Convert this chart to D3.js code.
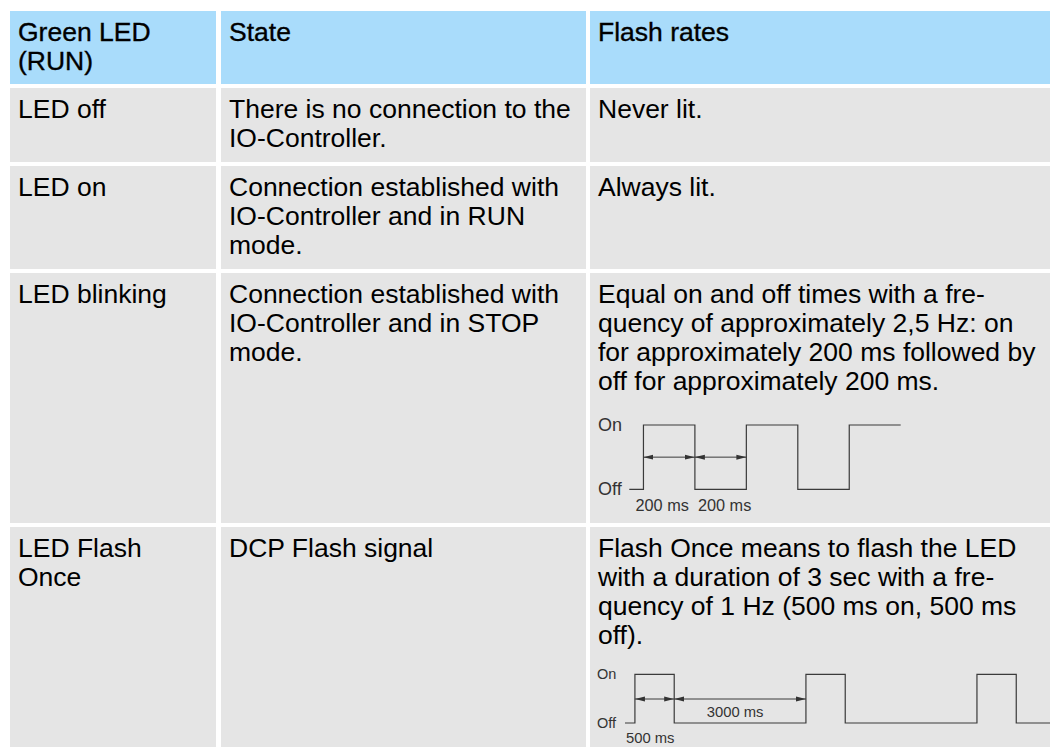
<!DOCTYPE html>
<html><head><meta charset="utf-8">
<script src="https://cdn.jsdelivr.net/npm/d3@7"></script>
<style>body{margin:0;background:#fff;} svg{display:block;}</style>
</head><body><svg id="c" width="1050" height="747"></svg>
<script>
// ---------- data ----------
const headers = [["Green LED","(RUN)"],["State"],["Flash rates"]];
const ledModes = [["LED off"],["LED on"],["LED blinking"],["LED Flash","Once"]];
const states = [
  ["There is no connection to the","IO-Controller."],
  ["Connection established with","IO-Controller and in RUN","mode."],
  ["Connection established with","IO-Controller and in STOP","mode."],
  ["DCP Flash signal"]
];
const flashRates = [
  ["Never lit."],
  ["Always lit."],
  ["Equal on and off times with a fre-","quency of approximately 2,5 Hz: on","for approximately 200 ms followed by","off for approximately 200 ms."],
  ["Flash Once means to flash the LED","with a duration of 3 sec with a fre-","quency of 1 Hz (500 ms on, 500 ms","off)."]
];
const levelLabels = ["Off","On"];
// blinking: edge times (ms) and level after each edge
const blinkTimes = [-55, 0, 200, 400, 600, 800, 1000];
const blinkLevels = [0, 1, 0, 1, 0, 1];
const blinkDims = [[0, 200, "200 ms"], [200, 400, "200 ms"]];
// flash once: segment durations (ms) and levels (schematic, compressed)
const onceDurations = [65, 500, 3000, 500, 3000, 500, 3000];
const onceLevels = [0, 1, 0, 1, 0, 1, 0];
const onceDims = [[1, "500 ms"], [2, "3000 ms"]];

// ---------- layout ----------
const svg = d3.select("#c");
const colBands = [[10,216],[221,586],[590,1050]];
const rowBands = [[11,84],[88,162],[166,269],[273,523],[527,760]];
const FONT = "'Liberation Sans', Arial, Helvetica, sans-serif";
const FS = 26.5, LH = 29;

const rows = [headers].concat(ledModes.map((m,i)=>[m, states[i], flashRates[i]]));

rows.forEach((row, r) => {
  row.forEach((lines, c) => {
    const [x0,x1] = colBands[c], [y0,y1] = rowBands[r];
    svg.append("rect").attr("x",x0).attr("y",y0).attr("width",x1-x0).attr("height",y1-y0)
      .attr("fill", r===0 ? "#a9dcfb" : "#e5e5e5");
    const t = svg.append("text").attr("font-family",FONT).attr("font-size",FS).attr("fill","#000");
    if (r===0) t.attr("stroke","#000").attr("stroke-width",0.35);
    lines.forEach((ln,i)=> t.append("tspan").attr("x",x0+8).attr("y",y0+30+i*LH).text(ln));
  });
});

// arrow marker
const defs = svg.append("defs");
["s","e"].forEach(k=>{
  defs.append("marker").attr("id","arr"+k).attr("markerUnits","userSpaceOnUse")
    .attr("markerWidth",10).attr("markerHeight",6).attr("refX", k==="e"?10:0).attr("refY",3)
    .attr("orient","auto")
    .append("path").attr("d", k==="e" ? "M0,0.5L10,3L0,5.5Z" : "M10,0.5L0,3L10,5.5Z").attr("fill","#333");
});

const WCOL = "#3a3a3a";

// ---------- blinking waveform ----------
const xb = d3.scaleLinear().domain([blinkTimes[0], blinkTimes[blinkTimes.length-1]]).range([629.3, 900.7]);
const yb = d3.scaleLinear().domain([0,1]).range([489.3, 425]);
const bPts = blinkTimes.map((t,i)=>[t, blinkLevels[Math.min(i, blinkLevels.length-1)]]);
svg.append("path").attr("d", d3.line().x(d=>xb(d[0])).y(d=>yb(d[1])).curve(d3.curveStepAfter)(bPts))
  .attr("fill","none").attr("stroke",WCOL).attr("stroke-width",1.2);
const gb = svg.append("g").attr("font-family",FONT).attr("fill","#333");
levelLabels.forEach((l,i)=> gb.append("text").attr("x",598).attr("y",yb(i)+6).attr("font-size",18).text(l));
const bYa = (yb(0)+yb(1))/2;
blinkDims.forEach((d,i)=>{
  svg.append("line").attr("x1",xb(d[0])).attr("x2",xb(d[1])).attr("y1",bYa).attr("y2",bYa)
    .attr("stroke",WCOL).attr("stroke-width",1).attr("marker-start","url(#arrs)").attr("marker-end","url(#arre)");
  gb.append("text").attr("x", xb(d[0]) + (i===0 ? -8 : 3)).attr("y", 511).attr("font-size",16.3).text(d[2]);
});

// ---------- flash once waveform ----------
const segLen = d3.scalePow().exponent(0.675).domain([0,500]).range([0,39.3]);
const starts = [625];
onceDurations.forEach((d,i)=> starts.push(starts[i] + segLen(d)));
const yo = d3.scaleLinear().domain([0,1]).range([723, 674.3]);
const oPts = onceLevels.map((l,i)=>[starts[i], l]).concat([[starts[starts.length-1], onceLevels[onceLevels.length-1]]]);
svg.append("path").attr("d", d3.line().x(d=>d[0]).y(d=>yo(d[1])).curve(d3.curveStepAfter)(oPts))
  .attr("fill","none").attr("stroke",WCOL).attr("stroke-width",1.2);
const go = svg.append("g").attr("font-family",FONT).attr("fill","#333");
levelLabels.forEach((l,i)=> go.append("text").attr("x",597).attr("y",yo(i)+5).attr("font-size",14.5).text(l));
const oYa = 699;
onceDims.forEach((d,i)=>{
  const a = starts[d[0]], b = starts[d[0]+1];
  svg.append("line").attr("x1",a).attr("x2",b).attr("y1",oYa).attr("y2",oYa)
    .attr("stroke",WCOL).attr("stroke-width",1).attr("marker-start","url(#arrs)").attr("marker-end","url(#arre)");
  if (i===0) go.append("text").attr("x", starts[0]+1).attr("y",743).attr("font-size",14.8).text(d[1]);
  else go.append("text").attr("x", (a+b)/2 - 5).attr("y",716.5).attr("text-anchor","middle").attr("font-size",14.8).text(d[1]);
});
</script></body></html>
